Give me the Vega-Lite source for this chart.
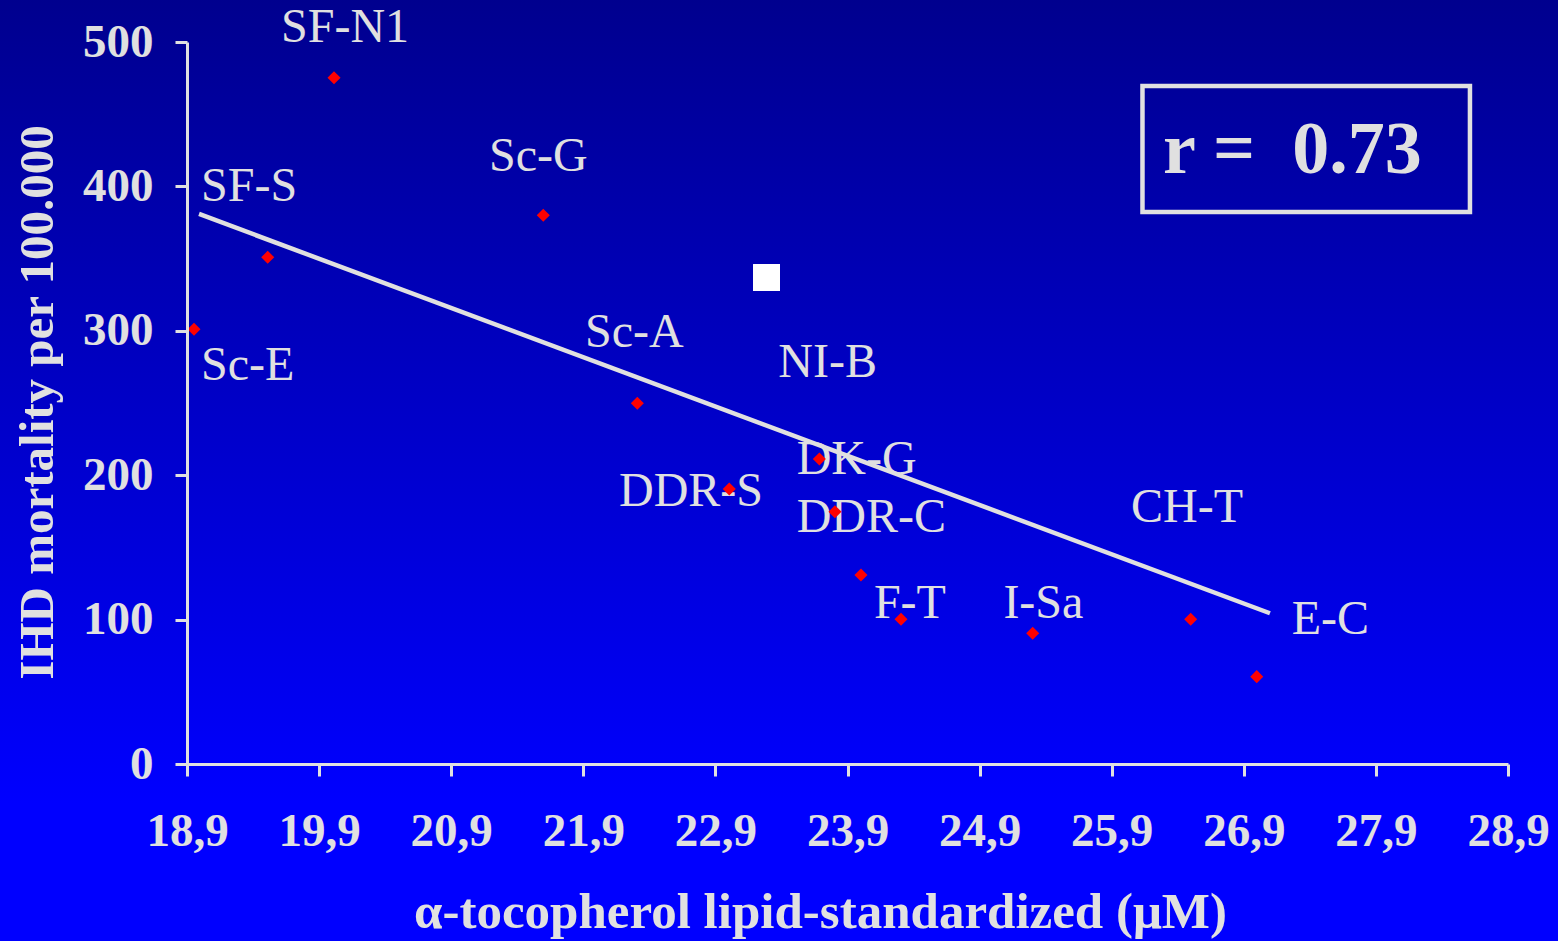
{
  "$schema": "https://vega.github.io/schema/vega-lite/v6.json",
  "width": 1321,
  "height": 722,
  "autosize": "none",
  "padding": {"left": 187, "top": 42, "right": 50, "bottom": 177},
  "background": "#0000C8",
  "config": {"view": {"stroke": null}},
  "datasets": {
    "bg": [{"alpha": 17.3, "alpha2": 29.5, "ihd": -135, "ihd2": 540}],
    "points": [
      {"alpha": 18.953, "ihd": 301.0},
      {"alpha": 19.511, "ihd": 350.9},
      {"alpha": 20.013, "ihd": 475.3},
      {"alpha": 21.597, "ihd": 380.0},
      {"alpha": 22.309, "ihd": 249.8},
      {"alpha": 23.005, "ihd": 190.4},
      {"alpha": 23.687, "ihd": 211.2},
      {"alpha": 23.805, "ihd": 174.7},
      {"alpha": 24.002, "ihd": 130.9},
      {"alpha": 24.305, "ihd": 100.2},
      {"alpha": 25.302, "ihd": 90.5},
      {"alpha": 26.498, "ihd": 100.2},
      {"alpha": 26.998, "ihd": 60.5}
    ],
    "marker": [{"alpha": 23.287, "ihd": 336.9}],
    "fit": [
      {"alpha": 18.991, "ihd": 380.9},
      {"alpha": 27.098, "ihd": 104.4}
    ],
    "labels": [
      {"alpha": 19.612, "ihd": 510.0, "label": "SF-N1"},
      {"alpha": 21.186, "ihd": 420.4, "label": "Sc-G"},
      {"alpha": 19.006, "ihd": 399.6, "label": "SF-S"},
      {"alpha": 19.006, "ihd": 275.6, "label": "Sc-E"},
      {"alpha": 21.913, "ihd": 298.5, "label": "Sc-A"},
      {"alpha": 23.376, "ihd": 277.5, "label": "NI-B"},
      {"alpha": 23.515, "ihd": 210.5, "label": "DK-G"},
      {"alpha": 22.170, "ihd": 188.4, "label": "DDR-S"},
      {"alpha": 23.515, "ihd": 170.7, "label": "DDR-C"},
      {"alpha": 26.046, "ihd": 177.3, "label": "CH-T"},
      {"alpha": 24.100, "ihd": 110.8, "label": "F-T"},
      {"alpha": 25.080, "ihd": 110.8, "label": "I-Sa"},
      {"alpha": 27.263, "ihd": 99.7, "label": "E-C"}
    ],
    "box": [{"alpha": 26.133, "alpha2": 28.612, "ihd": 469.5, "ihd2": 382.3}],
    "stat": [{"alpha": 26.289, "ihd": 424.2, "label": "r =\u00a0 0.73"}]
  },
  "encoding": {
    "x": {
      "field": "alpha",
      "type": "quantitative",
      "title": "α-tocopherol lipid-standardized (μM)",
      "scale": {"domain": [18.9, 28.9], "nice": false, "zero": false},
      "axis": {
        "zindex": 1,
        "grid": false,
        "values": [18.9, 19.9, 20.9, 21.9, 22.9, 23.9, 24.9, 25.9, 26.9, 27.9, 28.9],
        "labelExpr": "replace(format(datum.value, '.1f'), '.', ',')",
        "domainColor": "#E0E0E0",
        "domainWidth": 3,
        "tickColor": "#E0E0E0",
        "tickWidth": 3,
        "tickSize": 12,
        "labelColor": "#E0E0E0",
        "labelFont": "Liberation Serif",
        "labelFontWeight": "bold",
        "labelFontSize": 47,
        "labelBaseline": "middle",
        "labelPadding": 55,
        "labelOverlap": false,
        "labelFlush": false,
        "titleColor": "#E0E0E0",
        "titleFont": "Liberation Serif",
        "titleFontWeight": "bold",
        "titleFontSize": 51,
        "titleBaseline": "middle",
        "titleAlign": "center",
        "titleAnchor": null,
        "titleX": 633,
        "titleY": 148
      }
    },
    "y": {
      "field": "ihd",
      "type": "quantitative",
      "title": "IHD mortality per 100.000",
      "scale": {"domain": [0, 500], "nice": false},
      "axis": {
        "zindex": 1,
        "grid": false,
        "values": [0, 100, 200, 300, 400, 500],
        "domainColor": "#E0E0E0",
        "domainWidth": 3,
        "tickColor": "#E0E0E0",
        "tickWidth": 3,
        "tickSize": 12,
        "labelColor": "#E0E0E0",
        "labelFont": "Liberation Serif",
        "labelFontWeight": "bold",
        "labelFontSize": 47,
        "labelPadding": 22,
        "labelOverlap": false,
        "labelFlush": false,
        "titleColor": "#E0E0E0",
        "titleFont": "Liberation Serif",
        "titleFontWeight": "bold",
        "titleFontSize": 49,
        "titleAngle": -90,
        "titleBaseline": "middle",
        "titleAlign": "center",
        "titleAnchor": null,
        "titleX": -150,
        "titleY": 360
      }
    }
  },
  "layer": [
    {
      "data": {"name": "bg"},
      "mark": {
        "type": "rect",
        "clip": false,
        "fill": {
          "gradient": "linear",
          "x1": 0, "y1": 0, "x2": 0, "y2": 1,
          "stops": [
            {"offset": 0, "color": "#00008C"},
            {"offset": 0.84, "color": "#0000FF"},
            {"offset": 1, "color": "#0000FF"}
          ]
        }
      },
      "encoding": {
        "x2": {"field": "alpha2"},
        "y2": {"field": "ihd2"}
      }
    },
    {
      "data": {"name": "fit"},
      "mark": {"type": "line", "color": "#E0E0E0", "strokeWidth": 4.5, "strokeCap": "butt", "clip": false}
    },
    {
      "data": {"name": "box"},
      "mark": {"type": "rect", "fill": null, "fillOpacity": 0, "stroke": "#E0E0E0", "strokeWidth": 4.5, "clip": false},
      "encoding": {
        "x2": {"field": "alpha2"},
        "y2": {"field": "ihd2"}
      }
    },
    {
      "data": {"name": "stat"},
      "mark": {"type": "text", "align": "left", "baseline": "middle", "font": "Liberation Serif", "fontWeight": "bold", "fontSize": 74, "color": "#E0E0E0", "clip": false},
      "encoding": {"text": {"field": "label"}}
    },
    {
      "data": {"name": "labels"},
      "mark": {"type": "text", "align": "left", "baseline": "middle", "font": "Liberation Serif", "fontSize": 48, "color": "#E0E0E0", "clip": false},
      "encoding": {"text": {"field": "label"}}
    },
    {
      "data": {"name": "marker"},
      "mark": {"type": "point", "shape": "square", "size": 729, "filled": true, "color": "#FFFFFF", "opacity": 1, "clip": false}
    },
    {
      "data": {"name": "points"},
      "mark": {"type": "point", "shape": "diamond", "size": 170, "filled": true, "color": "#FF0000", "opacity": 1, "clip": false}
    }
  ]
}
